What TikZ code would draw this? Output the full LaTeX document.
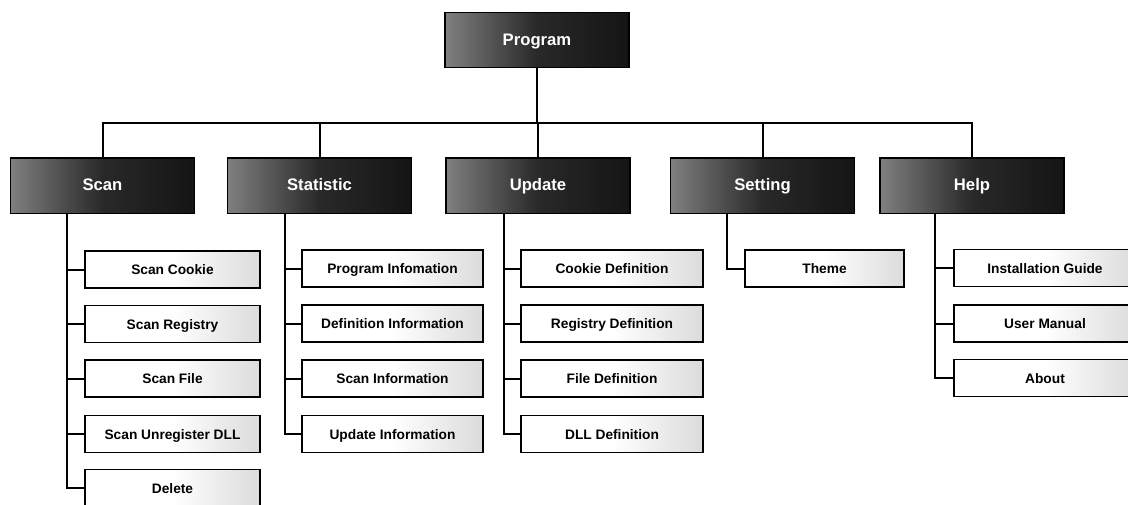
\documentclass[tikz,border=0pt]{standalone}
\usepackage{fontspec}
\setmainfont{Liberation Sans}
\begin{document}
\begin{tikzpicture}[x=0.75pt,y=-0.75pt,
  link/.style={draw=black, line width=1.5pt, line cap=rect, line join=miter},
  headbox/.style={draw=black, line width=1pt, inner sep=0pt,
    minimum width=138pt, minimum height=41.5pt,
    text height=1.75ex, text depth=0.3ex,
    left color=black!50, right color=black!92, middle color=black!84,
    text=white, font=\bfseries\fontsize{12.5}{14}\selectfont},
  itembox/.style={draw=black, line width=1.1pt, inner sep=0pt,
    minimum height=27.5pt,
    text height=1.75ex, text depth=0.3ex,
    left color=white, right color=black!14, middle color=white,
    text=black, font=\bfseries\fontsize{10.3}{12}\selectfont}]

\useasboundingbox (0,0) rectangle (1128,504);
\fill[white] (0,0) rectangle (1128,504);

% root and first level
\node[headbox] (prog) at (537,40)      {Program};
\node[headbox] (scan) at (102.5,185.5) {Scan};
\node[headbox] (stat) at (319.5,185.5) {Statistic};
\node[headbox] (upd)  at (538,185.5)   {Update};
\node[headbox] (sett) at (762.5,185.5) {Setting};
\node[headbox] (help) at (972,185.5)   {Help};

% second level: Scan
\node[itembox, minimum width=131.25pt] (s1) at (172.5,269.5) {Scan Cookie};
\node[itembox, minimum width=131.25pt] (s2) at (172.5,324)   {Scan Registry};
\node[itembox, minimum width=131.25pt] (s3) at (172.5,378.5) {Scan File};
\node[itembox, minimum width=131.25pt] (s4) at (172.5,434)   {Scan Unregister DLL};
\node[itembox, minimum width=131.25pt] (s5) at (172.5,488)   {Delete};

% second level: Statistic
\node[itembox, minimum width=135.75pt] (t1) at (392.5,268.5) {Program Infomation};
\node[itembox, minimum width=135.75pt] (t2) at (392.5,323.5) {Definition Information};
\node[itembox, minimum width=135.75pt] (t3) at (392.5,378.5) {Scan Information};
\node[itembox, minimum width=135.75pt] (t4) at (392.5,434)   {Update Information};

% second level: Update
\node[itembox, minimum width=136.5pt] (u1) at (612,268.5) {Cookie Definition};
\node[itembox, minimum width=136.5pt] (u2) at (612,323.5) {Registry Definition};
\node[itembox, minimum width=136.5pt] (u3) at (612,378.5) {File Definition};
\node[itembox, minimum width=136.5pt] (u4) at (612,434)   {DLL Definition};

% second level: Setting
\node[itembox, minimum width=119.25pt] (e1) at (824.5,268.5) {Theme};

% second level: Help
\node[itembox, minimum width=136.5pt] (h1) at (1045,268)   {Installation Guide};
\node[itembox, minimum width=136.5pt] (h2) at (1045,323.5) {User Manual};
\node[itembox, minimum width=136.5pt] (h3) at (1045,378)   {About};

% bus between root and first level
\coordinate (bus) at (0,123);
\draw[link] (prog.south) -- (prog.south |- bus);
\draw[link] (scan.north |- bus) -- (help.north |- bus);
\foreach \n in {scan,stat,upd,sett,help}
  \draw[link] (\n.north) -- (\n.north |- bus);

% rails down to the second level
\coordinate (rscan) at (67,0);
\coordinate (rstat) at (285,0);
\coordinate (rupd)  at (504,0);
\coordinate (rsett) at (727,0);
\coordinate (rhelp) at (935,0);

\draw[link] (scan.south -| rscan) |- (s5.west);
\foreach \c in {s1,s2,s3,s4} \draw[link] (\c.west) -- (\c.west -| rscan);

\draw[link] (stat.south -| rstat) |- (t4.west);
\foreach \c in {t1,t2,t3} \draw[link] (\c.west) -- (\c.west -| rstat);

\draw[link] (upd.south -| rupd) |- (u4.west);
\foreach \c in {u1,u2,u3} \draw[link] (\c.west) -- (\c.west -| rupd);

\draw[link] (sett.south -| rsett) |- (e1.west);

\draw[link] (help.south -| rhelp) |- (h3.west);
\foreach \c in {h1,h2} \draw[link] (\c.west) -- (\c.west -| rhelp);

\end{tikzpicture}
\end{document}
